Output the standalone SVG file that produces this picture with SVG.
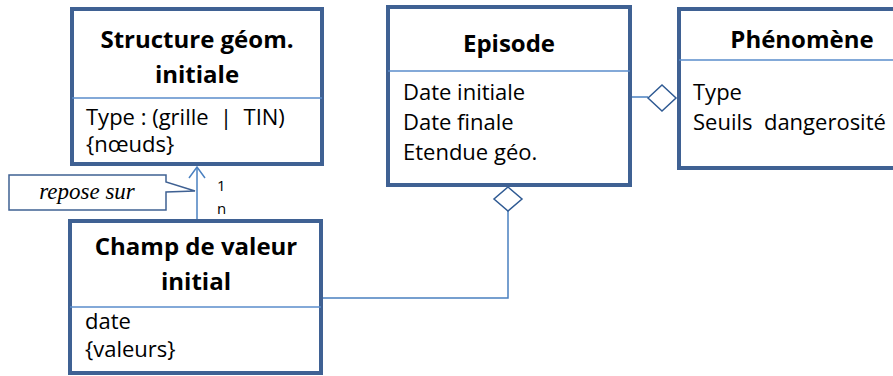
<svg xmlns="http://www.w3.org/2000/svg" width="893" height="376" viewBox="0 0 893 376">
<defs>
<style>
.box{fill:#fff;stroke:#3F6193;stroke-width:4}
.sep{stroke:#5A8DCB;stroke-width:1.3;fill:none}
.conn{stroke:#4A80C0;stroke-width:1.5;fill:none}
.dia{fill:#fff;stroke:#2F5A93;stroke-width:1.5}
.title{font-family:"Open Sans","Liberation Sans",sans-serif;font-weight:bold;font-size:24px;fill:#000;text-anchor:middle}
.attr{font-family:"Open Sans","Liberation Sans",sans-serif;font-size:22px;fill:#000;white-space:pre}
.mult{font-family:"Open Sans","Liberation Sans",sans-serif;font-size:15px;fill:#000}
.note{font-family:"Liberation Serif",serif;font-style:italic;font-size:23px;fill:#000;text-anchor:middle}
</style>
</defs>

<g id="connectors">
<line class="conn" x1="197" y1="219" x2="197" y2="167"/>
<polyline class="conn" points="189,178 197,167 205,178"/>
<polyline class="conn" points="321,298 508,298 508,211"/>
<line class="conn" x1="632" y1="97" x2="648" y2="97"/>
<polygon class="dia" points="508,187 522,199 508,211 494,199"/>
<polygon class="dia" points="648,98 662,85 676,98 662,111"/>
<text class="mult" x="217" y="191">1</text>
<text class="mult" x="217" y="214">n</text>
</g>

<g id="note-repose-sur">
<polygon points="9,175 166,175 166,182 195,191 166,192 166,210 9,210" fill="#fff" stroke="#3F6193" stroke-width="1.5"/>
<text class="note" x="87" y="199">repose sur</text>
</g>

<g id="structure-geom">
<rect class="box" x="72" y="9" width="250" height="155"/>
<line class="sep" x1="72" y1="98" x2="322" y2="98"/>
<text class="title" x="197" y="48">Structure géom.</text>
<text class="title" x="197" y="83">initiale</text>
<text class="attr" x="86" y="125">Type : (grille  |  TIN)</text>
<text class="attr" x="86" y="152">{nœuds}</text>
</g>

<g id="champ-valeur">
<rect class="box" x="70" y="221" width="251" height="152"/>
<line class="sep" x1="70" y1="307" x2="321" y2="307"/>
<text class="title" x="196" y="255">Champ de valeur</text>
<text class="title" x="196" y="290">initial</text>
<text class="attr" x="85" y="329">date</text>
<text class="attr" x="85" y="357">{valeurs}</text>
</g>

<g id="episode">
<rect class="box" x="388" y="7" width="242" height="178"/>
<line class="sep" x1="388" y1="71" x2="630" y2="71"/>
<text class="title" x="509" y="52">Episode</text>
<text class="attr" x="403" y="100">Date initiale</text>
<text class="attr" x="403" y="130">Date finale</text>
<text class="attr" x="403" y="160">Etendue géo.</text>
</g>

<g id="phenomene">
<rect class="box" x="679" y="9" width="246" height="159"/>
<line class="sep" x1="679" y1="60" x2="925" y2="60"/>
<text class="title" x="802" y="48">Phénomène</text>
<text class="attr" x="693" y="100">Type</text>
<text class="attr" x="693" y="130">Seuils  dangerosité</text>
</g>
</svg>
